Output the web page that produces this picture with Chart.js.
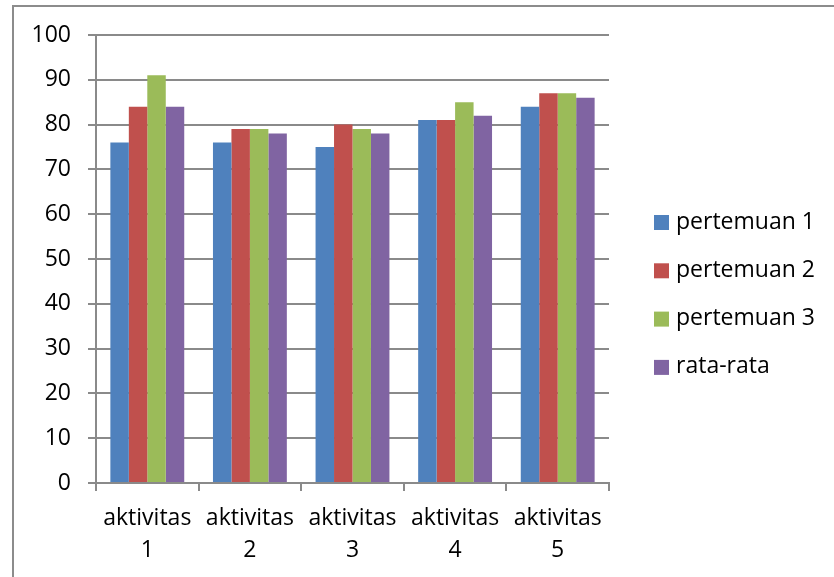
<!DOCTYPE html>
<html>
<head>
<meta charset="utf-8">
<script src="https://cdn.jsdelivr.net/npm/chart.js@4/dist/chart.umd.min.js"></script>
<style>
  html, body { margin: 0; padding: 0; background: #ffffff; }
  #wrap { width: 834px; height: 577px; }
</style>
</head>
<body>
<div id="wrap"><canvas id="c" width="834" height="577"></canvas></div>
<script>
// Categories and series
const categories = [['aktivitas', '1'], ['aktivitas', '2'], ['aktivitas', '3'], ['aktivitas', '4'], ['aktivitas', '5']];
const seriesNames = ['pertemuan 1', 'pertemuan 2', 'pertemuan 3', 'rata-rata'];
const pertemuan1 = [76, 76, 75, 81, 84];
const pertemuan2 = [84, 79, 80, 81, 87];
const pertemuan3 = [91, 79, 79, 85, 87];
const rataRata = [84, 78, 78, 82, 86];
const yTicks = [0, 10, 20, 30, 40, 50, 60, 70, 80, 90, 100];

const colors = ['#4F81BD', '#C0504D', '#9BBB59', '#8064A2'];
const seriesValues = [pertemuan1, pertemuan2, pertemuan3, rataRata];
const FONT = "'Open Sans', 'DejaVu Sans', sans-serif";
const GRID = '#8a8a8a';

// Outer frame lines and legend on the right
const decor = {
  id: 'decor',
  beforeDraw(chart) {
    const ctx = chart.ctx;
    ctx.save();
    ctx.fillStyle = '#ffffff';
    ctx.fillRect(0, 0, chart.width, chart.height);
    ctx.strokeStyle = '#8c8c8c';
    ctx.lineWidth = 2;
    ctx.beginPath();
    ctx.moveTo(12, 6); ctx.lineTo(chart.width, 6);
    ctx.moveTo(13, 6); ctx.lineTo(13, chart.height);
    ctx.stroke();
    ctx.restore();
  },
  afterDraw(chart) {
    const ctx = chart.ctx;
    ctx.save();
    ctx.font = '23px ' + FONT;
    ctx.textBaseline = 'middle';
    ctx.textAlign = 'left';
    chart.data.datasets.forEach((ds, i) => {
      const top = 215 + i * 48.3;
      ctx.fillStyle = ds.backgroundColor;
      ctx.fillRect(654, top, 15, 15);
      ctx.fillStyle = '#000000';
      ctx.fillText(ds.label, 676, top + 7);
    });
    ctx.restore();
  }
};

new Chart(document.getElementById('c'), {
  type: 'bar',
  data: {
    labels: categories,
    datasets: seriesNames.map((name, i) => ({
      label: name,
      data: seriesValues[i],
      backgroundColor: colors[i],
      borderWidth: 0,
      categoryPercentage: 0.72,
      barPercentage: 1.0
    }))
  },
  options: {
    responsive: false,
    animation: false,
    layout: { padding: { top: 35, right: 225, left: 0, bottom: 0 } },
    plugins: { legend: { display: false }, tooltip: { enabled: false } },
    scales: {
      x: {
        afterFit(scale) { scale.height = 94; },
        grid: {
          offset: true, drawOnChartArea: false, drawTicks: true,
          tickLength: 8, color: GRID, lineWidth: 2
        },
        border: { color: GRID, width: 2 },
        ticks: {
          color: '#000000', padding: 12, maxRotation: 0, autoSkip: false,
          font: { family: FONT, size: 23, lineHeight: 1.38 }
        }
      },
      y: {
        min: 0, max: 100,
        afterFit(scale) { scale.width = 96; },
        afterBuildTicks(scale) { scale.ticks = yTicks.map(v => ({ value: v })); },
        grid: { color: GRID, lineWidth: 2, tickLength: 8, drawTicks: true },
        border: { color: GRID, width: 2 },
        ticks: {
          color: '#000000', padding: 17,
          font: { family: FONT, size: 23 }
        }
      }
    }
  },
  plugins: [decor]
});
</script>
</body>
</html>
